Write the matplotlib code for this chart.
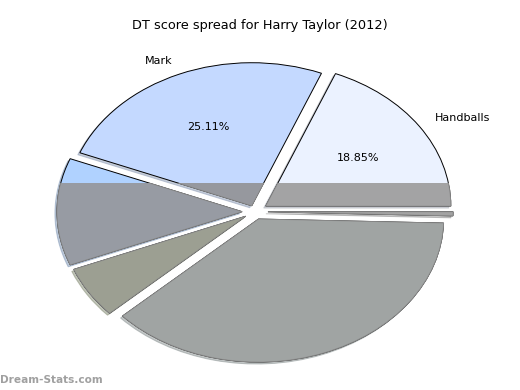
import matplotlib
matplotlib.use("Agg")
import matplotlib.pyplot as plt
from matplotlib.path import Path

# share of DT score per stat (percent), going anticlockwise from 3 o'clock
categories = ["Handballs", "Mark", "Kick", "Tackle", "Goal", "Behind"]
shares = [18.85, 25.11, 12.10, 5.80, 37.69, 0.45]
shown = ["Handballs", "Mark"]   # only these carry labels in the original

explode = [0.07, 0.045, 0.07, 0.06, 0.055, 0.07]
top_colors = ["#ebf2ff", "#c4d9ff", "#b0d2ff", "#b8c4a0", "#c0cccc", "#c8c8c8"]
low_colors = ["#a3a3a4", "#96989e", "#979ba3", "#9c9f92", "#a0a4a3", "#a3a3a3"]

fig = plt.figure(figsize=(5.2, 3.9), dpi=100)
ax = fig.add_axes([0, 0, 1, 1])

labels = [c if c in shown else "" for c in categories]

def pct(p):
    # only label the wedges that have a name shown
    for c, s in zip(categories, shares):
        if abs(s - p) < 0.005 and c in shown:
            return "%.2f%%" % p
    return ""

wedges, texts, autotexts = ax.pie(
    shares, labels=labels, explode=explode, colors=top_colors,
    autopct=pct, shadow={"ox": -0.008, "oy": -0.01, "shade": 0.3},
    startangle=0,
    wedgeprops=dict(edgecolor="black", linewidth=0.7),
    textprops=dict(fontsize=8))

# grey lower half (the odd shading of the original image)
low, _ = ax.pie(shares, explode=explode, colors=low_colors, startangle=0,
                wedgeprops=dict(edgecolor="#909090", linewidth=0.6))
clip = Path([(-3, -3), (3, -3), (3, 0.2), (-3, 0.2), (-3, -3)])
for w in low:
    w.set_clip_on(True)
    w.set_clip_path(clip, ax.transData)

ax.set_aspect("auto")
ax.set_xlim(-1.378, 1.432)
ax.set_ylim(-1.247, 1.480)
ax.set_axis_off()

fig.text(0.5, 0.935, "DT score spread for Harry Taylor (2012)",
         ha="center", va="center", fontsize=9.3)
fig.text(0.0, 0.025, "Dream-Stats.com", ha="left", va="center",
         fontsize=7.6, color="#a0a0a0", fontweight="bold")

fig.savefig("out.png", dpi=100)
